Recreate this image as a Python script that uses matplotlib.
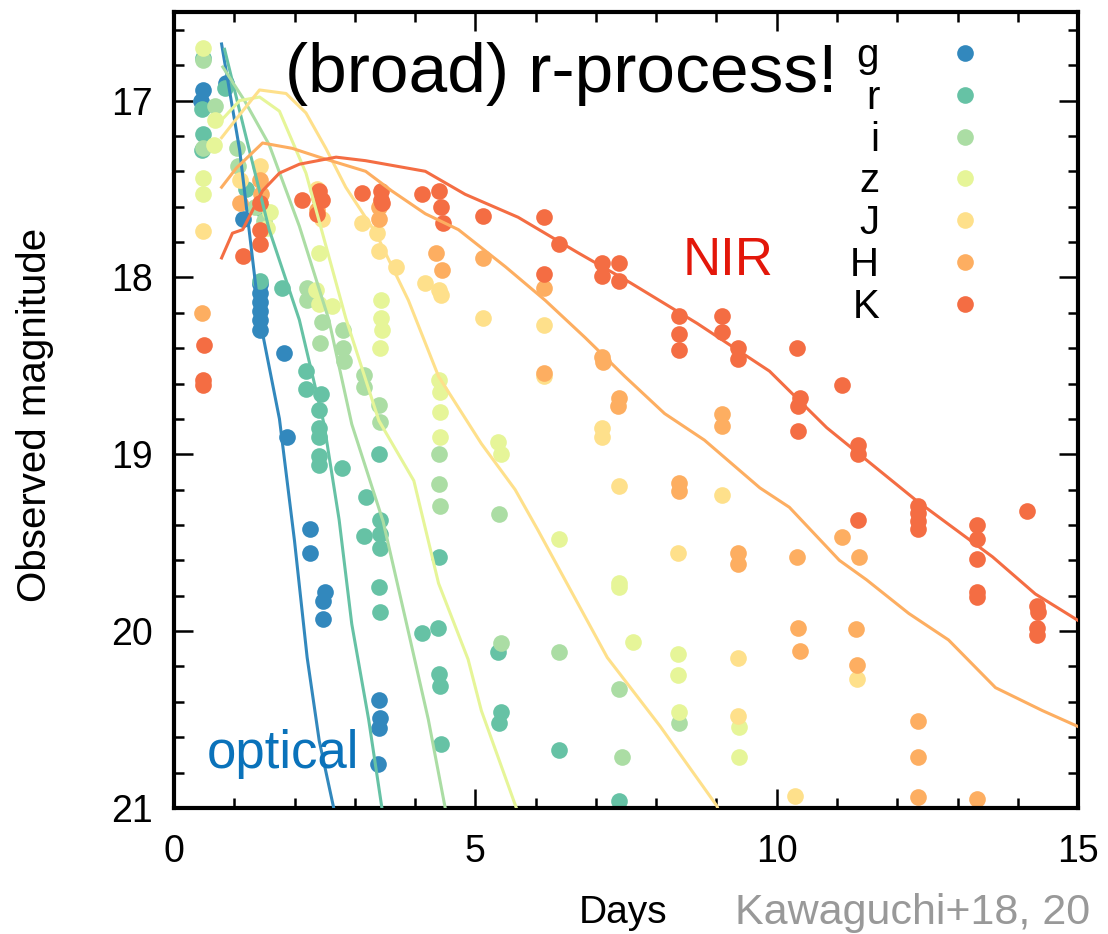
import matplotlib
matplotlib.use("Agg")
import matplotlib.pyplot as plt
from matplotlib.ticker import MultipleLocator

plt.rcParams['font.family'] = ['Liberation Sans', 'DejaVu Sans']

bands = ['g', 'r', 'i', 'z', 'J', 'H', 'K']
colors = ['#3288bd', '#66c2a5', '#abdda4', '#e6f598', '#fee08b', '#fdae61', '#f46d43']

# observed photometry (days, mag)
g_t = [0.48, 0.45, 0.86, 1.14, 1.42, 1.43, 1.42, 1.43, 1.42, 1.42, 1.82, 1.87, 2.26, 2.26,
       2.50, 2.48, 2.48, 3.40, 3.42, 3.41, 3.38]
g_m = [16.94, 17.00, 16.90, 17.67, 18.04, 18.09, 18.14, 18.19, 18.24, 18.30, 18.43, 18.90, 19.42, 19.56,
       19.78, 19.83, 19.93, 20.39, 20.49, 20.55, 20.75]

r_t = [0.48, 0.47, 0.48, 0.47, 0.84, 1.20, 1.42, 1.48, 1.80, 2.19, 2.19, 2.44, 2.41, 2.41, 2.41, 2.41,
       2.41, 2.79, 3.18, 3.15, 3.40, 3.42, 3.42, 3.42, 3.40, 3.42, 4.12, 4.38, 4.40, 4.40, 4.42, 4.43,
       5.38, 5.43, 5.40, 6.39, 7.39]
r_m = [16.76, 17.05, 17.19, 17.28, 16.93, 17.50, 18.02, 17.62, 18.06, 18.53, 18.63, 18.66, 18.75, 18.85,
       18.90, 19.01, 19.06, 19.08, 19.24, 19.46, 19.00, 19.37, 19.45, 19.53, 19.75, 19.89, 20.01, 19.98,
       19.58, 20.24, 20.31, 20.64, 20.12, 20.46, 20.52, 20.67, 20.96]

i_t = [0.48, 0.48, 0.68, 1.04, 1.06, 1.35, 1.50, 2.20, 2.20, 2.45, 2.42, 2.80, 2.80, 2.82, 3.15, 3.15,
       3.40, 3.42, 4.40, 4.40, 4.42, 5.40, 5.43, 6.39, 7.39, 7.43, 8.38]
i_m = [16.77, 17.27, 17.03, 17.27, 17.37, 17.60, 17.68, 18.06, 18.13, 18.25, 18.37, 18.30, 18.40, 18.47,
       18.55, 18.62, 18.72, 18.82, 19.00, 19.17, 19.29, 19.34, 20.07, 20.12, 20.33, 20.71, 20.52]

z_t = [0.48, 0.48, 0.48, 0.68, 0.66, 1.60, 1.55, 2.41, 2.36, 2.63, 2.41, 3.43, 3.43, 3.45, 3.42, 4.39,
       4.41, 4.41, 4.41, 5.38, 5.43, 6.39, 7.38, 7.38, 7.62, 8.37, 8.37, 8.38, 9.37, 9.37]
z_m = [16.70, 17.44, 17.53, 17.11, 17.25, 17.63, 17.72, 17.86, 18.07, 18.16, 18.15, 18.13, 18.23, 18.30,
       18.40, 18.58, 18.65, 18.76, 18.90, 18.93, 19.00, 19.48, 19.73, 19.75, 20.06, 20.13, 20.25, 20.46,
       20.54, 20.71]

J_t = [0.48, 1.10, 1.43, 2.38, 2.45, 3.12, 3.37, 3.40, 3.68, 4.17, 4.39, 4.43, 5.13, 6.14, 6.14, 7.10,
       7.10, 7.39, 8.37, 9.09, 9.36, 9.36, 10.30, 11.34]
J_m = [17.74, 17.45, 17.37, 17.50, 17.67, 17.69, 17.75, 17.85, 17.94, 18.03, 18.07, 18.10, 18.23, 18.27,
       18.56, 18.85, 18.90, 19.18, 19.56, 19.23, 20.15, 20.48, 20.93, 20.27]

H_t = [0.46, 1.09, 1.42, 1.45, 2.40, 2.38, 3.40, 3.40, 4.35, 4.44, 5.13, 6.14, 6.14, 7.10, 7.12, 7.38,
       7.36, 8.38, 8.38, 9.09, 9.09, 9.36, 9.36, 10.33, 10.36, 10.38, 11.09, 11.37, 11.32, 11.34, 12.34,
       12.34, 12.34, 13.33]
H_m = [18.20, 17.58, 17.45, 17.53, 17.55, 17.62, 17.60, 17.67, 17.86, 17.96, 17.89, 18.06, 18.54, 18.45,
       18.48, 18.68, 18.73, 19.16, 19.21, 18.77, 18.84, 19.56, 19.62, 19.58, 19.98, 20.11, 19.47, 19.58,
       19.99, 20.19, 20.51, 20.71, 20.94, 20.95]

K_t = [0.50, 0.49, 0.48, 1.14, 1.42, 1.42, 1.42, 2.41, 2.46, 2.38, 2.13, 3.12, 3.43, 3.43, 3.45, 4.11,
       4.39, 4.43, 4.47, 5.13, 6.14, 6.14, 6.39, 7.10, 7.10, 7.39, 7.39, 8.38, 8.38, 8.38, 9.09, 9.09,
       9.36, 9.36, 10.33, 10.38, 10.35, 10.36, 11.09, 11.35, 11.35, 11.35, 12.34, 12.34, 12.34, 12.34,
       13.33, 13.33, 13.33, 13.32, 13.32, 14.16, 14.32, 14.33, 14.32, 14.32]
K_m = [18.38, 18.58, 18.61, 17.88, 17.58, 17.73, 17.81, 17.51, 17.56, 17.64, 17.56, 17.52, 17.51, 17.56,
       17.58, 17.53, 17.51, 17.60, 17.69, 17.65, 17.66, 17.98, 17.81, 17.92, 17.99, 17.92, 18.02, 18.22,
       18.32, 18.41, 18.22, 18.31, 18.40, 18.46, 18.40, 18.68, 18.73, 18.87, 18.61, 18.95, 19.00, 19.37,
       19.29, 19.33, 19.38, 19.42, 19.40, 19.48, 19.59, 19.78, 19.81, 19.32, 19.86, 19.89, 19.98, 20.02]

# model light curves
g_mod_t = [0.79, 1.09, 1.42, 1.75, 2.00, 2.21, 2.41, 2.65, 2.75]
g_mod_m = [16.68, 17.28, 18.23, 18.80, 19.49, 20.15, 20.62, 21.00, 21.2]
r_mod_t = [0.84, 1.17, 1.58, 2.08, 2.49, 2.74, 2.95, 3.23, 3.45, 3.5]
r_mod_m = [16.71, 17.17, 17.73, 18.24, 18.83, 19.37, 19.96, 20.50, 21.00, 21.2]
i_mod_t = [0.81, 1.17, 1.58, 2.08, 2.57, 2.95, 3.47, 3.86, 4.22, 4.50, 4.55]
i_mod_m = [16.81, 17.00, 17.25, 17.71, 18.24, 18.83, 19.38, 19.96, 20.50, 21.00, 21.2]
z_mod_t = [0.79, 1.09, 1.42, 1.75, 2.19, 2.85, 3.40, 3.98, 4.39, 4.88, 5.10, 5.68, 5.75]
z_mod_m = [17.11, 17.00, 16.98, 17.06, 17.41, 18.23, 18.81, 19.15, 19.73, 20.16, 20.45, 21.00, 21.2]
J_mod_t = [0.79, 1.09, 1.42, 1.86, 2.19, 2.52, 2.85, 3.35, 3.89, 4.39, 5.10, 5.66, 6.04, 7.19, 8.07,
           9.01, 9.1]
J_mod_m = [17.21, 17.08, 16.94, 16.96, 17.07, 17.27, 17.49, 17.75, 18.13, 18.56, 18.94, 19.20, 19.43,
           20.15, 20.54, 20.99, 21.1]
H_mod_t = [0.79, 1.04, 1.47, 1.96, 2.41, 3.18, 3.61, 4.17, 4.72, 5.50, 6.16, 6.82, 7.48, 8.14, 8.80,
           9.72, 10.21, 11.04, 11.49, 12.19, 12.85, 13.63, 14.41, 15.0]
H_mod_m = [17.49, 17.38, 17.24, 17.27, 17.32, 17.40, 17.51, 17.64, 17.73, 17.94, 18.13, 18.34, 18.56,
           18.77, 18.92, 19.19, 19.30, 19.60, 19.71, 19.90, 20.05, 20.32, 20.45, 20.54]
K_mod_t = [0.79, 0.97, 1.14, 1.47, 1.75, 2.08, 2.69, 3.18, 4.17, 4.83, 5.71, 6.70, 7.57, 8.68, 9.88,
           10.83, 12.31, 13.58, 14.29, 15.0]
K_mod_m = [17.89, 17.75, 17.73, 17.51, 17.41, 17.36, 17.32, 17.34, 17.40, 17.53, 17.66, 17.86, 18.03,
           18.26, 18.53, 18.85, 19.26, 19.58, 19.79, 19.94]

obs = [(g_t, g_m), (r_t, r_m), (i_t, i_m), (z_t, z_m), (J_t, J_m), (H_t, H_m), (K_t, K_m)]
mods = [(g_mod_t, g_mod_m), (r_mod_t, r_mod_m), (i_mod_t, i_mod_m), (z_mod_t, z_mod_m),
        (J_mod_t, J_mod_m), (H_mod_t, H_mod_m), (K_mod_t, K_mod_m)]

fig = plt.figure(figsize=(11.08, 9.34), dpi=100)
ax = fig.add_axes([0.157, 0.135, 0.816, 0.852])

for (t, m), c in zip(obs, colors):
    ax.plot(t, m, 'o', color=c, ms=12, mec='none', zorder=2)
for (t, m), c in zip(mods, colors):
    ax.plot(t, m, '-', color=c, lw=2.2, zorder=3)

# legend: labels right aligned, markers to the right
for k, (b, c) in enumerate(zip(bands, colors)):
    y = 0.931 - k * 0.0525
    ax.text(0.780, y, b, transform=ax.transAxes, ha='right', va='baseline', fontsize=29)
    ax.plot([0.875], [y + 0.0175], 'o', color=c, ms=12, mec='none', transform=ax.transAxes)

ax.text(0.1228, 0.8995, '(broad) r-process!', transform=ax.transAxes, fontsize=50, va='baseline')
ax.text(0.0365, 0.050, 'optical', transform=ax.transAxes, fontsize=38, color='#0a72ba', va='baseline')
ax.text(0.563, 0.6696, 'NIR', transform=ax.transAxes, fontsize=38, color='#e3170a', va='baseline')
fig.text(0.984, 0.0107, 'Kawaguchi+18, 20', ha='right', va='baseline', fontsize=31, color='#999999')

ax.set_xlim(0, 15)
ax.set_ylim(21, 16.5)
ax.xaxis.set_major_locator(MultipleLocator(5))
ax.xaxis.set_minor_locator(MultipleLocator(1))
ax.yaxis.set_major_locator(MultipleLocator(1))
ax.yaxis.set_minor_locator(MultipleLocator(0.2))
ax.tick_params(which='both', direction='in', top=True, right=True, labelsize=27, width=1.8)
ax.tick_params(which='major', length=14)
ax.tick_params(which='minor', length=7)
ax.tick_params(axis='x', pad=19)
ax.tick_params(axis='y', pad=15)
for s in ax.spines.values():
    s.set_linewidth(3)

ax.set_xlabel('Days', fontsize=28)
ax.xaxis.set_label_coords(0.497, -0.110)
ax.set_ylabel('Observed magnitude', fontsize=29)
ax.yaxis.set_label_coords(-0.133, 0.494)

fig.savefig('out.png', dpi=100)
